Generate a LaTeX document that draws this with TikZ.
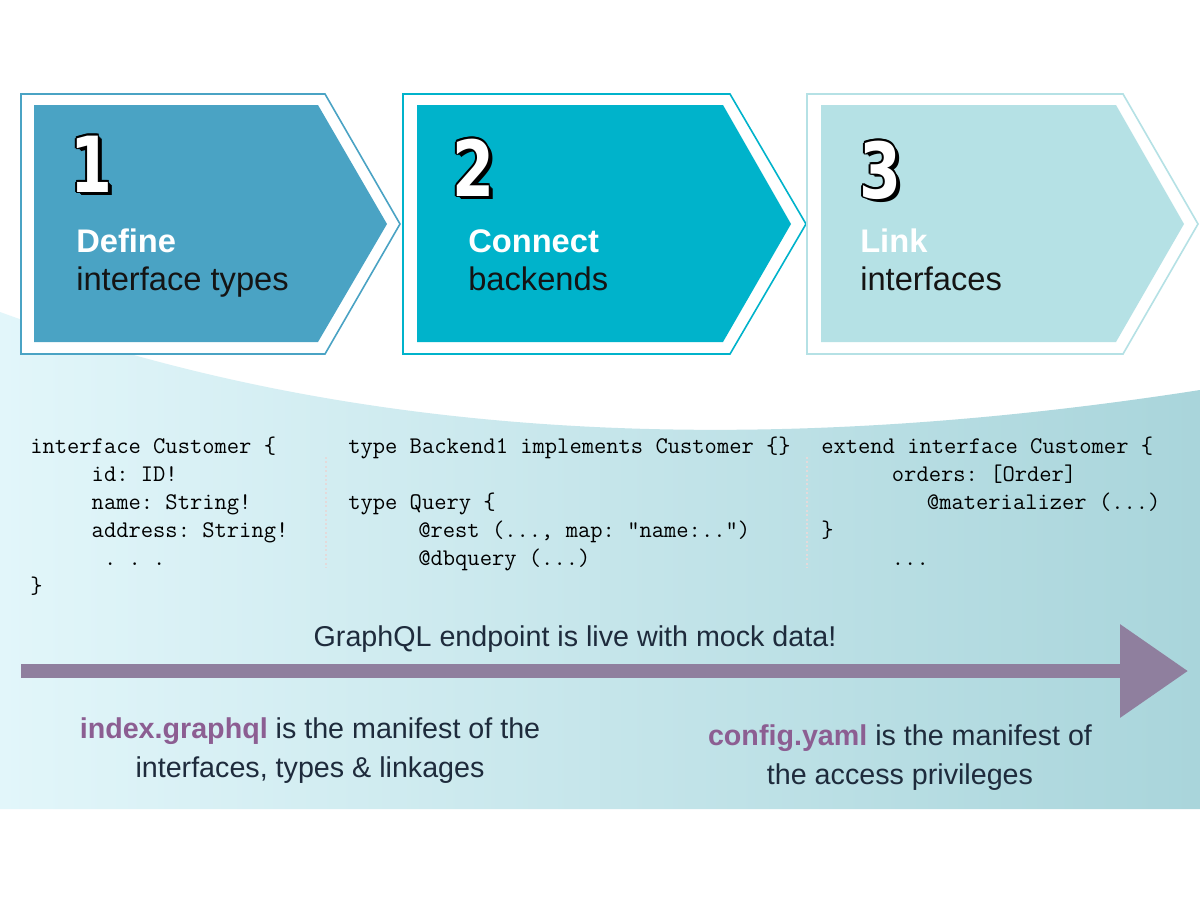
\documentclass[tikz,border=0pt]{standalone}
\usepackage{fontspec}
\setmainfont{Liberation Sans}
\newfontfamily\numfont{DejaVu Sans}
\usetikzlibrary{arrows.meta}
\definecolor{cone}{HTML}{4AA3C4}
\definecolor{ctwo}{HTML}{00B3CB}
\definecolor{cthree}{HTML}{B5E1E5}
\definecolor{bgL}{HTML}{E2F6FA}
\definecolor{bgR}{HTML}{A9D5DB}
\definecolor{arrowc}{HTML}{8F7F9E}
\definecolor{purp}{HTML}{8C5E92}
\definecolor{navy}{HTML}{1E2B3C}
\definecolor{dotc}{HTML}{E4DADA}
\newcommand\codeind[1]{\hspace*{#1\fontcharwd\font`0}}
\tikzset{
  codeline/.style={anchor=base west, inner sep=0pt, font=\fontsize{17.9}{20}\ttfamily\frenchspacing, text=black},
  titleb/.style={anchor=base west, inner sep=0pt, font=\fontsize{24.5}{28}\selectfont\bfseries, text=white},
  titlen/.style={anchor=base west, inner sep=0pt, font=\fontsize{24.5}{28}\selectfont, text=black!92},
  bottomtxt/.style={anchor=base, inner sep=0pt, font=\fontsize{21.5}{26}\selectfont, text=navy},
  numtxt/.style={anchor=base west, inner sep=0pt, font=\fontsize{58}{60}\numfont\bfseries, xscale=0.78},
  outerchev/.style={fill=white, line width=1.2pt},
  sep/.style={draw=dotc, line width=2pt, dash pattern=on 1.5pt off 1.8pt},
}
\newcommand\bigdigit[3]{%
  \foreach \dx/\dy [count=\k] in {1.6/0,-1.6/0,0/1.6,0/-1.6,1.2/1.2,-1.2/1.2,1.2/-1.2,-1.2/-1.2,2.5/1.8,3.3/2.6,4/3.2}
    \node[numtxt, text=black] (d#3s\k) at ([shift={(\dx,\dy)}]#1,#2) {#3};
  \node[numtxt, text=white] (d#3) at (#1,#2) {#3};
}
\begin{document}
\begin{tikzpicture}[x=0.75pt, y=-0.75pt]
\useasboundingbox (0,0) rectangle (1200,900);
\fill[white] (0,0) rectangle (1200,900);
% background band
\shade[left color=bgL, right color=bgR]
  (0,312) .. controls (350,440) and (750,460) .. (1200,390) -- (1200,809) -- (0,809) -- cycle;
% chevrons
\draw[outerchev, draw=cone] (21,94) -- (325,94) -- (400,224) -- (325,354) -- (21,354) -- cycle;
\fill[cone] (34,105) -- (318,105) -- (387,224) -- (318,342) -- (34,342) -- cycle;
\draw[outerchev, draw=ctwo] (403,94) -- (730,94) -- (806,224) -- (730,354) -- (403,354) -- cycle;
\fill[ctwo] (417,105) -- (723,105) -- (791,224) -- (723,342) -- (417,342) -- cycle;
\draw[outerchev, draw=cthree] (807,94) -- (1123,94) -- (1198,224) -- (1123,354) -- (807,354) -- cycle;
\fill[cthree] (821,105) -- (1116,105) -- (1184,224) -- (1116,342) -- (821,342) -- cycle;
% digits
\bigdigit{70}{192}{1}
\bigdigit{452}{196}{2}
\bigdigit{859}{198}{3}
% titles
\node[titleb] (t1a) at (76,252) {Define};
\node[titlen] (t1b) at (76,290) {interface types};
\node[titleb] (t2a) at (468,252) {Connect};
\node[titlen] (t2b) at (468,290) {backends};
\node[titleb] (t3a) at (860,252) {Link};
\node[titlen] (t3b) at (860,290) {interfaces};
% code column 1
\node[codeline] (a1) at (30,453) {interface Customer \{};
\node[codeline] (a2) at (30,481) {\codeind{5}id: ID!};
\node[codeline] (a3) at (30,509) {\codeind{5}name: String!};
\node[codeline] (a4) at (30,537) {\codeind{5}address: String!};
\node[codeline] (a5) at (30,565) {\codeind{6}.\ .\ .};
\node[codeline] (a6) at (30,593) {\}};
% code column 2
\node[codeline] (b1) at (348,453) {type Backend1 implements Customer \{\}};
\node[codeline] (b3) at (348,509) {type Query \{};
\node[codeline] (b4) at (348,537) {\codeind{5.7}@rest (..., map: “name:..”)};
\node[codeline] (b5) at (348,565) {\codeind{5.7}@dbquery (...)};
% code column 3
\node[codeline] (e1) at (821,453) {extend interface Customer \{};
\node[codeline] (e2) at (821,481) {\codeind{5.75}orders: [Order]};
\node[codeline] (e3) at (821,509) {\codeind{8.6}@materializer (...)};
\node[codeline] (e4) at (821,537) {\}};
\node[codeline] (e5) at (821,565) {\codeind{5.75}...};
% separators
\coordinate (s1t) at (326,457); \coordinate (s1b) at (326,568);
\coordinate (s2t) at (807,457); \coordinate (s2b) at (807,568);
\draw[sep] (s1t) -- (s1b);
\draw[sep] (s2t) -- (s2b);
% timeline arrow
\coordinate (arrS) at (21,671);
\coordinate (arrE) at (1188,671);
\draw[arrowc, line width=10.5pt, -{Triangle[length=51pt, width=67.5pt]}] (arrS) -- (arrE);
% bottom texts
\node[bottomtxt] (live) at (575,646) {GraphQL endpoint is live with mock data!};
\node[bottomtxt] (idx1) at (310,738) {\textcolor{purp}{\bfseries index.graphql} is the manifest of the};
\node[bottomtxt] (idx2) at (310,777) {interfaces, types \& linkages};
\node[bottomtxt] (cfg1) at (900,745) {\textcolor{purp}{\bfseries config.yaml} is the manifest of};
\node[bottomtxt] (cfg2) at (900,784) {the access privileges};
\end{tikzpicture}
\end{document}
